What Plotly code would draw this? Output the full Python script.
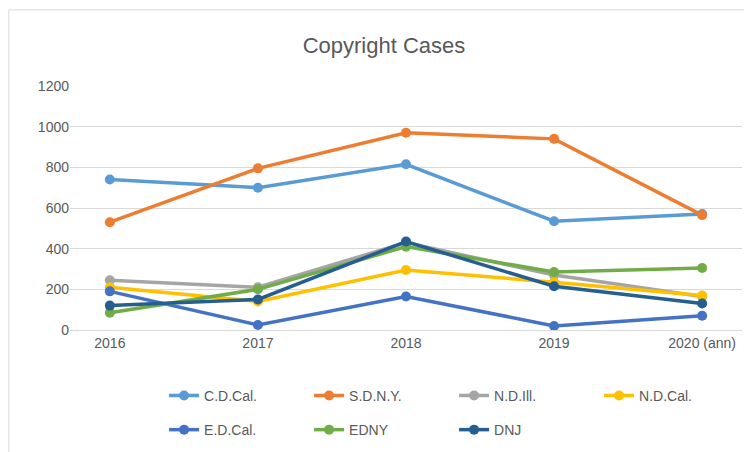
import plotly.graph_objects as go

years = ['2016', '2017', '2018', '2019', '2020 (ann)']
series = ['C.D.Cal.', 'S.D.N.Y.', 'N.D.Ill.', 'N.D.Cal.', 'E.D.Cal.', 'EDNY', 'DNJ']
cdcal = [740, 700, 815, 535, 570]
sdny = [530, 795, 970, 940, 565]
ndill = [245, 210, 430, 270, 165]
ndcal = [210, 140, 295, 235, 170]
edcal = [190, 25, 165, 20, 70]
edny = [85, 200, 410, 285, 305]
dnj = [120, 150, 435, 215, 130]
values = [cdcal, sdny, ndill, ndcal, edcal, edny, dnj]
colors = ['#5B9BD5', '#ED7D31', '#A5A5A5', '#FFC000', '#4472C4', '#70AD47', '#255E91']

fig = go.Figure()
for i, (name, vals, c) in enumerate(zip(series, values, colors)):
    fig.add_trace(go.Scatter(x=years, y=vals, name=name, mode='lines+markers',
                             legend='legend' if i < 4 else 'legend2',
                             line=dict(color=c, width=3.5), marker=dict(size=10, color=c)))

leg = dict(orientation='h', x=0.14, xanchor='left', yanchor='middle',
           font=dict(size=14), entrywidth=100)

fig.update_layout(
    width=752, height=452,
    font=dict(family='Liberation Sans, Arial', color='#595959', size=14),
    title=dict(text='Copyright Cases', x=0.5, y=0.918, xanchor='center', yanchor='middle',
               font=dict(size=22, color='#595959')),
    plot_bgcolor='white', paper_bgcolor='white',
    margin=dict(l=62, r=18, t=78, b=130),
    xaxis=dict(showgrid=False, showline=True, linecolor='#d9d9d9', ticks='',
               tickfont=dict(size=14)),
    yaxis=dict(range=[0, 1200], dtick=200, gridcolor='#d9d9d9', zeroline=False,
               showline=False, tickfont=dict(size=14)),
    legend=dict(leg, y=-0.27),
    legend2=dict(leg, y=-0.41),
    shapes=[dict(type='rect', xref='paper', yref='paper', x0=-0.091, x1=1.024,
                 y0=-0.52, y1=1.312, line=dict(color='#d9d9d9', width=1))],
)

fig.write_html('out.html')
